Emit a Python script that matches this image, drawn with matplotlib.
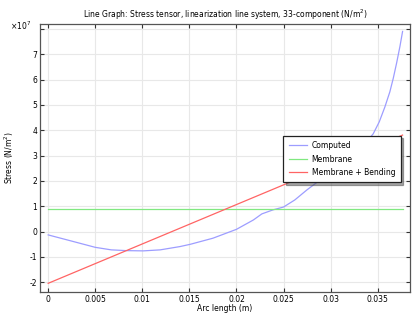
import numpy as np
import matplotlib
matplotlib.use("Agg")
import matplotlib.pyplot as plt
from matplotlib.ticker import FuncFormatter

# Arc length (m) and computed stress (x1e7 N/m^2)
arc = [0, 0.00266, 0.005, 0.0067, 0.0083, 0.0101, 0.0119, 0.014, 0.0151,
       0.0175, 0.02, 0.0218, 0.0227, 0.0239, 0.025, 0.0262, 0.0275, 0.029,
       0.031, 0.0328, 0.0338, 0.03453, 0.03517, 0.03577, 0.0363, 0.03666,
       0.03702, 0.03737, 0.03765]
computed = [-0.13, -0.39, -0.62, -0.72, -0.75, -0.76, -0.72, -0.59, -0.50,
            -0.26, 0.09, 0.46, 0.70, 0.86, 0.97, 1.25, 1.65, 2.07,
            2.64, 3.18, 3.53, 3.86, 4.33, 4.92, 5.52, 6.05,
            6.66, 7.31, 7.9]
computed = [v * 1e7 for v in computed]

# linearized stresses
arc_lin = [0, 0.03765]
membrane = [0.885e7, 0.885e7]
memb_bend = [-2.04e7, 3.81e7]

title = "Line Graph: Stress tensor, linearization line system, 33-component (N/m$^2$)"

fig = plt.figure(figsize=(4.2, 3.18), dpi=100)
ax = fig.add_axes([0.095, 0.082, 0.881, 0.843])

ax.plot(arc, computed, color="#9d9dff", lw=0.9, label="Computed")
ax.plot(arc_lin, membrane, color="#80e880", lw=0.9, label="Membrane")
ax.plot(arc_lin, memb_bend, color="#ff6464", lw=0.9, label="Membrane + Bending")

ax.set_xlim(-0.00088, 0.03843)
ax.set_ylim(-2.38e7, 8.2e7)
ax.set_xticks([0, 0.005, 0.01, 0.015, 0.02, 0.025, 0.03, 0.035])
ax.set_xticklabels(["0", "0.005", "0.01", "0.015", "0.02", "0.025", "0.03", "0.035"])
ax.set_yticks(np.arange(-2, 9) * 1e7)
ax.yaxis.set_major_formatter(FuncFormatter(
    lambda v, p: "" if round(v / 1e7) == 8 else "%d" % round(v / 1e7)))

ax.grid(True, color="#e8e8e8", lw=0.8)
ax.set_axisbelow(True)
ax.tick_params(direction="in", top=True, right=True, length=3, width=0.8,
               labelsize=5.5, pad=2, color="#333333")
for s in ax.spines.values():
    s.set_color("#555555")
    s.set_linewidth(0.9)

ax.set_title(title, fontsize=5.5, pad=4)
ax.set_xlabel("Arc length (m)", fontsize=5.5, labelpad=0)
ax.set_ylabel("Stress (N/m$^2$)", fontsize=5.5, labelpad=10)
fig.text(0.024, 0.918, r"$\times10^7$", fontsize=5.5, ha="left", va="center")

leg = ax.legend(loc="upper right", bbox_to_anchor=(0.975, 0.583), borderaxespad=0,
                fontsize=5.5, fancybox=False, shadow=True, framealpha=1,
                edgecolor="#222222", handlelength=2.4, handletextpad=0.6,
                labelspacing=0.6, borderpad=0.7)
leg.get_frame().set_linewidth(0.9)

fig.savefig("out.png", dpi=100)
